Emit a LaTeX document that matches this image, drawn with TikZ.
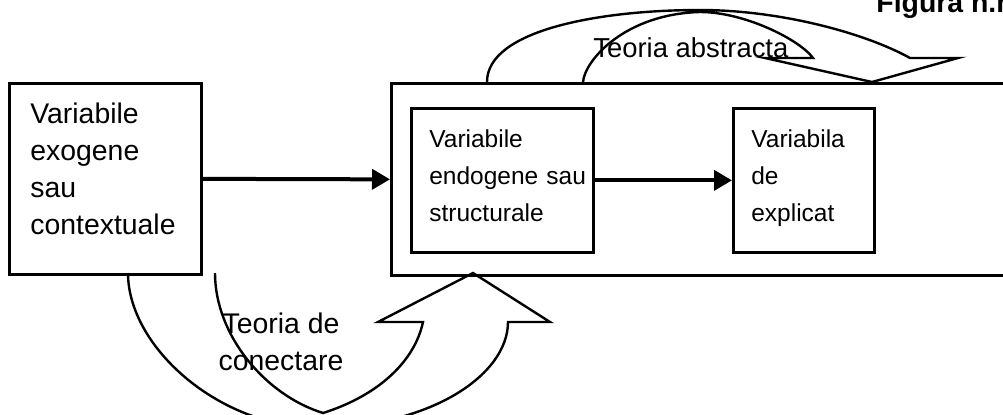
\documentclass[tikz,border=0pt]{standalone}
\usepackage{fontspec}
\setmainfont{Liberation Sans}
\usetikzlibrary{arrows.meta,positioning}
\hyphenpenalty=10000
\exhyphenpenalty=10000
\tikzset{
	box/.style={draw, line width=1.35pt, inner ysep=0pt, align=left, anchor=north west},
	flow/.style={line width=2pt, -{Triangle[length=9pt,width=10pt]}},
	bigarrow/.style={line width=1.2pt, line join=miter},
	big/.style={font=\fontsize{14.2}{18.5}\selectfont}
}

\begin{document}
\begin{tikzpicture}[x=0.5pt, y=-0.5pt, font=\fontsize{12.25}{18.5}\selectfont]
	\useasboundingbox (0,0) rectangle (1003,414);
	\clip (0,0) rectangle (1003,414);

	\node[box, big, inner xsep=10.5pt, text width=75pt, text height=20pt, text depth=75.5pt] (EX) at (8,82) {Variabile\\exogene\\sau\\contextuale};
	\node[box, inner sep=0pt, minimum width=320pt, minimum height=96pt] (FR) at (390,82) {};
	\node[box, inner xsep=9pt, text width=73pt, text height=19.5pt, text depth=52.5pt] (EN) at (410,107) {Variabile\\endogene~sau\\structurale};
	\node[box, inner xsep=9pt, text width=52.5pt, text height=19.5pt, text depth=52.5pt] (EP) at (732,107) {Variabila\\de\\explicat};

	\draw[flow] (EX.east) -- (FR.west);
	\draw[flow] (EN.east) -- (EP.west);

	\draw[bigarrow] (487,82) .. controls (487,30) and (600,10) .. (700,10) .. controls (780,10) and (865,33) .. (910,58) -- (958,58) -- (872,82) -- (765,58) -- (813,58) .. controls (800,40) and (745,12) .. (700,12) .. controls (625,14) and (585,60) .. (583,82);
	\node[big, anchor=base west, inner sep=0pt, font=\fontsize{13.7}{18.5}\selectfont] (TA) at (593,57) {Teoria abstracta};

	\draw[bigarrow] (128,273) .. controls (128,345) and (215,425) .. (315,428) .. controls (430,428) and (508,375) .. (508,322) -- (550,322) -- (473,273) -- (378,322) -- (423,322) .. controls (415,360) and (380,395) .. (323,413) .. controls (265,395) and (215,335) .. (215,273);
	\node[big, align=center, inner sep=0pt] (TC) at (281,342) {Teoria de\\conectare};

	\node[anchor=base west, inner sep=0pt, font=\fontsize{14.2}{16}\selectfont\bfseries] (FG) at (876,12) {Figura n.n};
\end{tikzpicture}
\end{document}
